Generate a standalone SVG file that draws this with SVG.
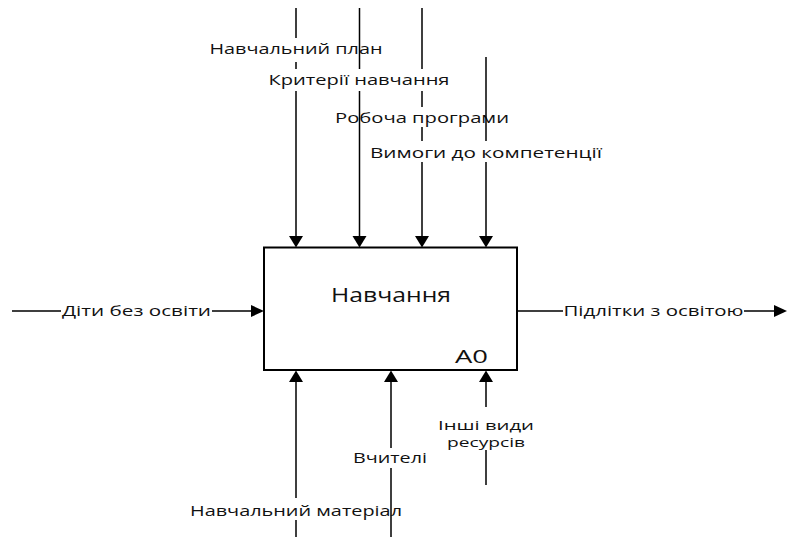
<svg xmlns="http://www.w3.org/2000/svg" width="787" height="537" viewBox="0 0 787 537">
  <style>
    .ln { fill: none; stroke: #000; stroke-width: 1.5; }
    .head { fill: #000; stroke: none; }
    .lbl { font-family: "Open Sans", "Noto Sans", "DejaVu Sans", sans-serif; font-size: 14px; fill: #111; text-anchor: middle; }
    .lbl-sm { font-size: 13px; }
    .box { fill: #fff; stroke: #000; stroke-width: 2; }
    .title { font-family: "Open Sans", "Noto Sans", "DejaVu Sans", sans-serif; font-size: 20px; fill: #111; text-anchor: middle; }
    .code { font-family: "Open Sans", "Noto Sans", "DejaVu Sans", sans-serif; font-size: 18px; fill: #111; text-anchor: middle; }
  </style>
  <rect width="787" height="537" fill="#fff"/>

  <!-- function block A0 -->
  <g id="node-a0">
    <rect class="box" x="264" y="247.5" width="253" height="122.5"/>
    <text class="title" x="391" y="302" textLength="120" lengthAdjust="spacingAndGlyphs">Навчання</text>
    <text class="code" x="471.5" y="363" textLength="33" lengthAdjust="spacingAndGlyphs">A0</text>
  </g>

  <g id="connectors">
    <!-- controls (top) -->
    <g id="ctrl-plan">
      <path class="ln" d="M296 8V38M296 62V69M296 91V237"/>
      <polygon class="head" points="289,236 303,236 296,247.5"/>
      <text class="lbl" x="296" y="54" textLength="173" lengthAdjust="spacingAndGlyphs">Навчальний план</text>
    </g>
    <g id="ctrl-criteria">
      <path class="ln" d="M359.5 8V69M359.5 91V237"/>
      <polygon class="head" points="352.5,236 366.5,236 359.5,247.5"/>
      <text class="lbl" x="359" y="85" textLength="181" lengthAdjust="spacingAndGlyphs">Критерії навчання</text>
    </g>
    <g id="ctrl-program">
      <path class="ln" d="M422 8V69M422 91V107M422 127V141M422 162V237"/>
      <polygon class="head" points="415,236 429,236 422,247.5"/>
      <text class="lbl" x="422" y="123" textLength="174" lengthAdjust="spacingAndGlyphs">Робоча програми</text>
    </g>
    <g id="ctrl-competence">
      <path class="ln" d="M486 57V141M486 162V237"/>
      <polygon class="head" points="479,236 493,236 486,247.5"/>
      <text class="lbl" x="486" y="158" textLength="232" lengthAdjust="spacingAndGlyphs">Вимоги до компетенції</text>
    </g>

    <!-- input (left) -->
    <g id="in-children">
      <path class="ln" d="M12 311H61M212 311H252"/>
      <polygon class="head" points="251,305 251,317 264,311"/>
      <text class="lbl" x="136.5" y="316" textLength="149" lengthAdjust="spacingAndGlyphs">Діти без освіти</text>
    </g>

    <!-- output (right) -->
    <g id="out-teens">
      <path class="ln" d="M517 311H563M744 311H775"/>
      <polygon class="head" points="774,305 774,317 787,311"/>
      <text class="lbl" x="653.5" y="316" textLength="180" lengthAdjust="spacingAndGlyphs">Підлітки з освітою</text>
    </g>

    <!-- mechanisms (bottom) -->
    <g id="mech-material">
      <path class="ln" d="M296 381V498M296 520V537"/>
      <polygon class="head" points="289,382 303,382 296,370.5"/>
      <text class="lbl" x="296" y="516" textLength="212" lengthAdjust="spacingAndGlyphs">Навчальний матеріал</text>
    </g>
    <g id="mech-teachers">
      <path class="ln" d="M391 381V448M391 468V537"/>
      <polygon class="head" points="384,382 398,382 391,370.5"/>
      <text class="lbl" x="390" y="463" textLength="74" lengthAdjust="spacingAndGlyphs">Вчителі</text>
    </g>
    <g id="mech-resources">
      <path class="ln" d="M486 381V407M486 450V485"/>
      <polygon class="head" points="479,382 493,382 486,370.5"/>
      <text class="lbl lbl-sm" x="486" y="429.5" textLength="96" lengthAdjust="spacingAndGlyphs">Інші види</text>
      <text class="lbl lbl-sm" x="486" y="447" textLength="78" lengthAdjust="spacingAndGlyphs">ресурсів</text>
    </g>
  </g>
</svg>
